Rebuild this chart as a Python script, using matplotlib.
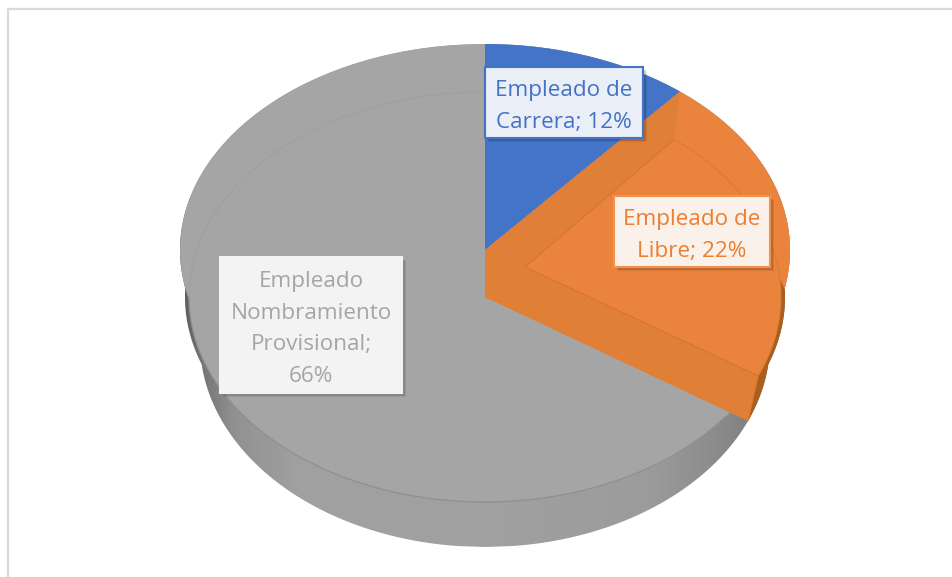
import numpy as np
import matplotlib
matplotlib.use("Agg")
import matplotlib.pyplot as plt
from matplotlib.patches import Polygon, Rectangle

plt.rcParams["font.family"] = ["Open Sans", "DejaVu Sans"]

# Data
names = ["Empleado de\nCarrera", "Empleado de\nLibre", "Empleado\nNombramiento\nProvisional"]
shares = [12, 22, 66]
separators = ["; ", "; ", ";\n"]
colors = ["#4474c8", "#ea833b", "#a5a5a5"]
text_colors = ["#4472c4", "#ed7d31", "#a5a5a5"]
box_faces = ["#e9eef7", "#faf1ea", "#f3f3f3"]
box_edges = ["#4472c4", "#f2924f", "#f3f3f3"]

# Layout, in picture pixels
CX = 485
TOP = (250, 305, 206)      # outer rim: centre y, rx, ry
SURFACE = (297, 296, 205)  # sunken surface
MID = (297, 300, 205)      # widest part of the side
BOTTOM = (342, 285, 205)   # underside
VIEW = 0.92                # perspective squeeze of the angles
boxes = [(485, 67, 158, 71), (614, 196, 156, 71), (220, 257, 182, 136)]

fig = plt.figure(figsize=(9.52, 5.77), dpi=100)
ax = fig.add_axes([0, 0, 1, 1])
ax.set_xlim(0, 952)
ax.set_ylim(577, 0)
ax.axis("off")

# chart frame
ax.plot([8, 8, 952], [577, 9, 9], color="#d9d9d9", lw=1.6, solid_capstyle="butt")


def pt(ell, t):
    return CX + ell[1] * np.sin(t), ell[0] - ell[2] * np.cos(t)


def arc(ell, t0, t1, n=120):
    t = np.linspace(t0, t1, n)
    return np.column_stack(pt(ell, t))


def half_width(y):
    w = np.zeros_like(y, dtype=float)
    for cy, rx, ry in (TOP, MID, BOTTOM):
        d = np.clip(1 - ((y - cy) / ry) ** 2, 0, None)
        w = np.maximum(w, rx * np.sqrt(d))
    return w


def hull_edge(y0, y1, n=200):
    y = np.linspace(y0, y1, n)
    return np.column_stack([CX + half_width(y), y])


# side of the cylinder, shaded left to right
ys = np.linspace(TOP[0] - TOP[2], BOTTOM[0] + BOTTOM[2], 500)
outline = np.vstack([hull_edge(ys[0], ys[-1], 500),
                     np.column_stack([CX - half_width(ys), ys])[::-1]])
hull = Polygon(outline, closed=True, fc="none", ec="none")
ax.add_patch(hull)
xs = np.arange(175, 796)
shade = np.interp(xs, [181, 200, 235, 300, 485, 650, 730, 790],
                  [90, 115, 145, 160, 160, 155, 135, 110]) / 255
img = ax.imshow(np.tile(shade, (2, 1)), cmap="gray", vmin=0, vmax=1, aspect="auto",
                extent=(175, 796, 577, 0), zorder=1)
img.set_clip_path(hull)
ax.set_xlim(0, 952)
ax.set_ylim(577, 0)

# grey top, then the line of the sunken surface
for ell in (TOP, SURFACE):
    ax.add_patch(Polygon(arc(ell, 0, 2 * np.pi), closed=True, fc=colors[2], ec="none", zorder=2))
line = arc(SURFACE, np.pi * 0.55, 2 * np.pi)
ax.plot(line[:, 0], line[:, 1], color="#9e9e9e", lw=0.6, zorder=3)
line = arc(SURFACE, np.pi * 0.7, 1.5 * np.pi)
ax.plot(line[:, 0], line[:, 1], color="#8f8f8f", lw=0.8, zorder=3)

# slice boundaries from the shares
t_blue = np.radians(360 * shares[0] / sum(shares)) * VIEW
t_orange = np.radians(360 * (shares[0] + shares[1]) / sum(shares)) * VIEW
apex_top = (CX, TOP[0])
apex_low = (CX, SURFACE[0])
apex_in = (525, 267)

# blue slice
ax.add_patch(Polygon(np.vstack([[apex_top], arc(TOP, 0, t_blue)]), closed=True,
                     fc=colors[0], ec="none", zorder=4))

# orange slice
a_top = pt(TOP, t_blue)
a_surf = pt(SURFACE, t_blue)
b_surf = pt(SURFACE, t_orange)
b_bot = pt(BOTTOM, t_orange)

# dark outside sliver
edge = hull_edge(285, b_bot[1])
surf = arc(SURFACE, np.pi * 0.47, t_orange, 60)
ax.add_patch(Polygon(np.vstack([edge, surf[::-1]]), closed=True, fc="#a9601f", ec="none", zorder=4))

outer = hull_edge(a_top[1], 290)
surf = arc(SURFACE, np.pi * 0.47, t_orange, 60)
ax.add_patch(Polygon(np.vstack([[apex_top], outer, surf, [b_bot], [apex_low]]), closed=True,
                     fc=colors[1], ec="none", zorder=5))
# inner walls
ax.add_patch(Polygon([apex_top, a_top, a_surf, apex_in], closed=True, fc="#df7f38", ec="none", zorder=6))
ax.add_patch(Polygon([apex_top, apex_in, b_surf, b_bot, apex_low], closed=True, fc="#e07f36", ec="none", zorder=6))
for p, q in ((a_surf, apex_in), (apex_in, b_surf), (b_surf, b_bot)):
    ax.plot([p[0], q[0]], [p[1], q[1]], color="#d8752c", lw=0.8, zorder=7)
line = arc(SURFACE, t_blue, t_orange)
ax.plot(line[:, 0], line[:, 1], color="#dd7a33", lw=0.7, zorder=7)

# labels
for name, share, sep, tc, fc, ec, (x, y, w, h) in zip(names, shares, separators, text_colors,
                                                      box_faces, box_edges, boxes):
    for off, al in ((4, 0.08), (2.5, 0.12), (1.2, 0.15)):
        ax.add_patch(Rectangle((x + off, y + off), w, h, fc="black", ec="none", alpha=al, zorder=8))
    ax.add_patch(Rectangle((x, y), w, h, fc=fc, ec=ec, lw=1.5, zorder=9))
    ax.text(x + w / 2, y + h / 2 + 4, f"{name}{sep}{share}%", color=tc, fontsize=16.2, ha="center",
            va="center", linespacing=1.65, zorder=10)

fig.savefig("out.png", dpi=100)
plt.close(fig)
